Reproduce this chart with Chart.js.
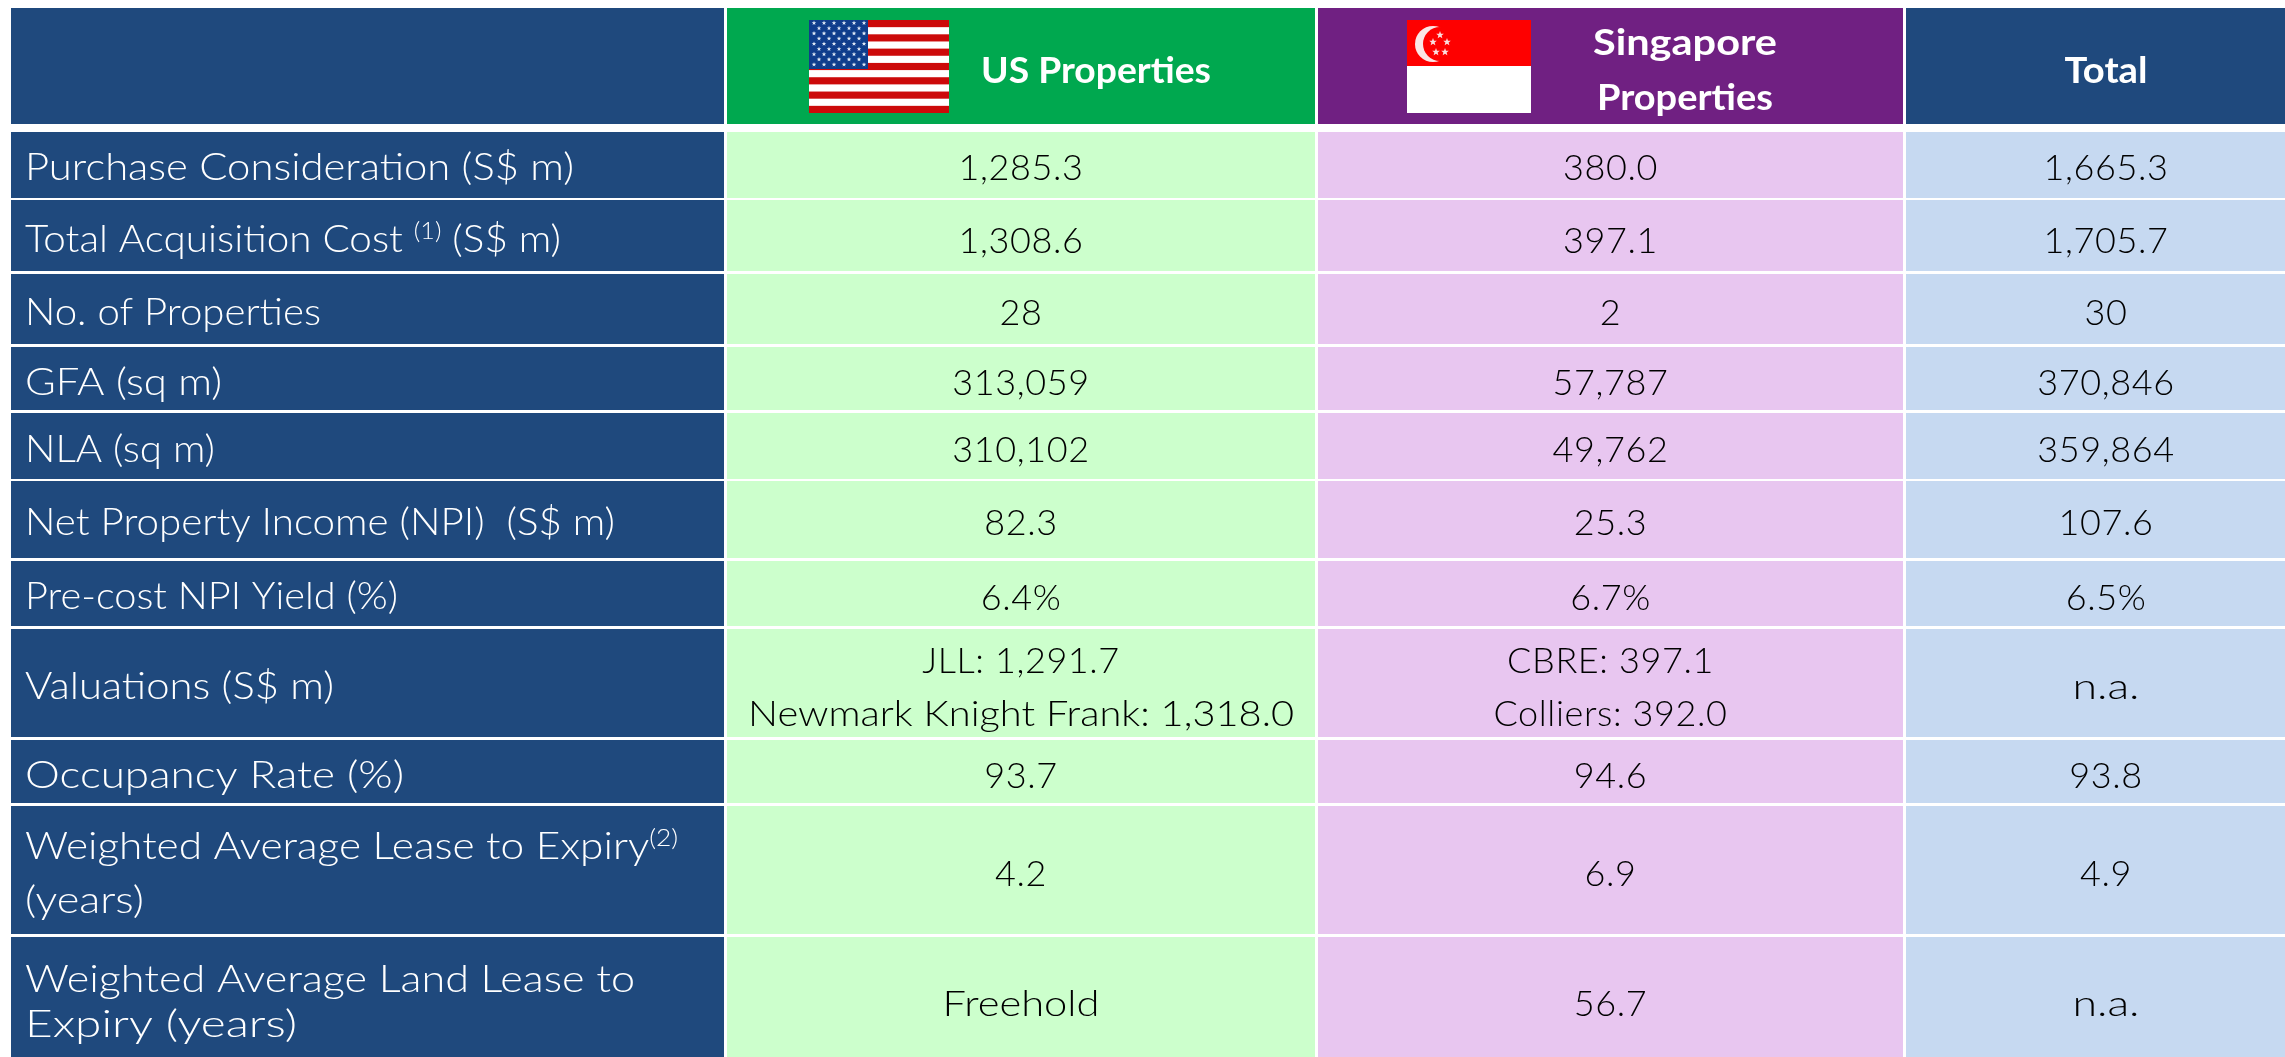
<!DOCTYPE html>
<html lang="en">
<head>
<meta charset="UTF-8">
<title>Properties table</title>
<script src="https://cdn.jsdelivr.net/npm/chart.js"></script>
<style>
  html, body { margin: 0; background: #ffffff; overflow: hidden; }
  canvas { display: block; }
</style>
</head>
<body>
<canvas id="table" width="2285" height="1057"></canvas>
<script>
// table content, ^..^ marks superscript
const headers = ['', 'US Properties', 'Singapore|Properties', 'Total'];
const rowLabels = [
  'Purchase Consideration (S$ m)',
  'Total Acquisition Cost ^(1)^ (S$ m)',
  'No. of Properties',
  'GFA (sq m)',
  'NLA (sq m)',
  'Net Property Income (NPI)  (S$ m)',
  'Pre-cost NPI Yield (%)',
  'Valuations (S$ m)',
  'Occupancy Rate (%)',
  'Weighted Average Lease to Expiry^(2)^|(years)',
  'Weighted Average Land Lease to|Expiry (years)'
];
const usValues = ['1,285.3', '1,308.6', '28', '313,059', '310,102', '82.3', '6.4%', 'JLL: 1,291.7|Newmark Knight Frank: 1,318.0', '93.7', '4.2', 'Freehold'];
const sgValues = ['380.0', '397.1', '2', '57,787', '49,762', '25.3', '6.7%', 'CBRE: 397.1|Colliers: 392.0', '94.6', '6.9', '56.7'];
const totalValues = ['1,665.3', '1,705.7', '30', '370,846', '359,864', '107.6', '6.5%', 'n.a.', '93.8', '4.9', 'n.a.'];

// layout of the table, in canvas pixels
const colEdges = [[11, 724], [727, 1315], [1318, 1903], [1906, 2306]];
const rowEdges = [[8, 124], [132, 198], [200, 271], [274, 344], [347, 410], [413, 479], [481, 558], [561, 626], [629, 737], [740, 803], [806, 934], [937, 1070]];
const headerBaselines = [[], [83], [55, 110], [83]];
const headerWidths = [[], [230], [184, 176], [83]];
const headerCenters = [0, 1096, 1685, 2106];
const labelBaselines = [[180], [252], [325], [395], [462], [535], [609], [699], [788], [859, 913], [992, 1037]];
const labelWidths = [[549], [536], [296], [197], [190], [590], [373], [309], [379], [653, 119], [610, 272]];
const valueBaselines = [[180], [253], [325], [395], [462], [535], [610], [673, 726], [788], [886], [1016]];
const wideValueWidths = { 'Newmark Knight Frank: 1,318.0': 546, 'Freehold': 157, 'n.a.': 67 };

const headerColors = ['#1f497d', '#00a84f', '#702082', '#1f497d'];
const cellColors = ['#1f497d', '#ccffcc', '#e8c6f0', '#c6d9f1'];
const columns = [rowLabels, usValues, sgValues, totalValues];

const labelFont = '300 37px Lato';
const supFont = '300 23px Lato';
const valueFont = '300 36px Lato';

// Lato is narrower than the original font, so stretch each line to its width
function fillStretched(ctx, text, x, y, width) {
  const sx = width / ctx.measureText(text).width;
  ctx.save();
  ctx.translate(x, y);
  ctx.scale(sx, 1);
  ctx.fillText(text, 0, 0);
  ctx.restore();
}

function drawLabel(ctx, text, x, y, width) {
  const parts = text.split('^');
  let natural = 0;
  parts.forEach((part, i) => {
    ctx.font = i % 2 ? supFont : labelFont;
    natural += ctx.measureText(part).width;
  });
  const sx = width / natural;
  ctx.textAlign = 'left';
  parts.forEach((part, i) => {
    ctx.font = i % 2 ? supFont : labelFont;
    const w = ctx.measureText(part).width * sx;
    fillStretched(ctx, part, x, i % 2 ? y - 13 : y, w);
    x += w;
  });
}

function drawStar(ctx, cx, cy, r) {
  ctx.beginPath();
  for (let i = 0; i < 10; i++) {
    const a = -Math.PI / 2 + i * Math.PI / 5;
    const rad = i % 2 ? r * 0.42 : r;
    ctx.lineTo(cx + rad * Math.cos(a), cy + rad * Math.sin(a));
  }
  ctx.closePath();
  ctx.fill();
}

function drawUsFlag(ctx) {
  const x = 809, y = 20, w = 140, h = 93;
  ctx.fillStyle = '#ffffff';
  ctx.fillRect(x, y, w, h);
  ctx.fillStyle = '#cc0a0a';
  for (let i = 0; i < 13; i += 2) ctx.fillRect(x, y + i * h / 13, w, h / 13);
  ctx.fillStyle = '#0f3d8c';
  ctx.fillRect(x, y, 59, 49);
  ctx.fillStyle = '#dfe8f5';
  for (let r = 0; r < 9; r++) {
    const n = r % 2 ? 5 : 6;
    for (let c = 0; c < n; c++) {
      drawStar(ctx, x + (r % 2 ? 10 : 5) + c * 10, y + 3 + r * 5.2, 2.4);
    }
  }
}

function drawSgFlag(ctx) {
  const x = 1407, y = 20, w = 124, h = 93;
  ctx.fillStyle = '#ffffff';
  ctx.fillRect(x, y, w, h);
  ctx.fillStyle = '#fe0000';
  ctx.fillRect(x, y, w, 46);
  ctx.fillStyle = '#fbe6e6';
  ctx.beginPath();
  ctx.arc(1433, 44, 18, 0, Math.PI * 2);
  ctx.fill();
  ctx.fillStyle = '#fe0000';
  ctx.beginPath();
  ctx.arc(1440, 44, 17, 0, Math.PI * 2);
  ctx.fill();
  ctx.fillStyle = '#fbdede';
  [[1440, 35], [1433, 42], [1447, 42], [1436, 52], [1445, 52]].forEach(p => drawStar(ctx, p[0], p[1], 4));
}

const tableText = {
  id: 'tableText',
  afterDatasetsDraw(chart) {
    const ctx = chart.ctx;
    ctx.save();
    ctx.textBaseline = 'alphabetic';

    drawUsFlag(ctx);
    drawSgFlag(ctx);

    // header row
    ctx.font = 'bold 36px Lato';
    ctx.textAlign = 'center';
    ctx.fillStyle = '#ffffff';
    headers.forEach((text, c) => {
      text.split('|').forEach((line, l) => {
        if (line) fillStretched(ctx, line, headerCenters[c], headerBaselines[c][l], headerWidths[c][l]);
      });
    });

    // body rows
    columns.forEach((values, c) => {
      const bars = chart.getDatasetMeta(c).data;
      values.forEach((text, r) => {
        const lines = text.split('|');
        if (c == 0) {
          ctx.fillStyle = '#ffffff';
          lines.forEach((line, l) => drawLabel(ctx, line, 25, labelBaselines[r][l], labelWidths[r][l]));
        } else {
          ctx.fillStyle = '#000000';
          ctx.font = valueFont;
          ctx.textAlign = 'center';
          lines.forEach((line, l) => {
            const y = lines.length == valueBaselines[r].length ? valueBaselines[r][l] : labelBaselines[r][l];
            if (wideValueWidths[line]) {
              fillStretched(ctx, line, bars[r + 1].x, y, wideValueWidths[line]);
            } else {
              ctx.letterSpacing = '0.6px';
              ctx.fillText(line, bars[r + 1].x, y);
              ctx.letterSpacing = '0px';
            }
          });
        }
      });
    });
    ctx.restore();
  }
};

const datasets = colEdges.map((edge, c) => ({
  label: headers[c] || 'Item',
  data: rowEdges.map(row => ({ x: (edge[0] + edge[1]) / 2, y: row })),
  backgroundColor: rowEdges.map((_, r) => r == 0 ? headerColors[c] : cellColors[c]),
  maxBarThickness: edge[1] - edge[0],
  borderWidth: 0,
  borderSkipped: false
}));

new Chart(document.getElementById('table'), {
  type: 'bar',
  data: { datasets },
  plugins: [tableText],
  options: {
    responsive: false,
    animation: false,
    grouped: false,
    categoryPercentage: 8,
    barPercentage: 1,
    layout: { padding: 0 },
    scales: {
      x: { type: 'linear', min: 0, max: 2285, offset: false, display: false },
      y: { type: 'linear', min: 0, max: 1057, reverse: true, display: false }
    },
    plugins: {
      legend: { display: false },
      tooltip: { enabled: false }
    }
  }
});
</script>
</body>
</html>
